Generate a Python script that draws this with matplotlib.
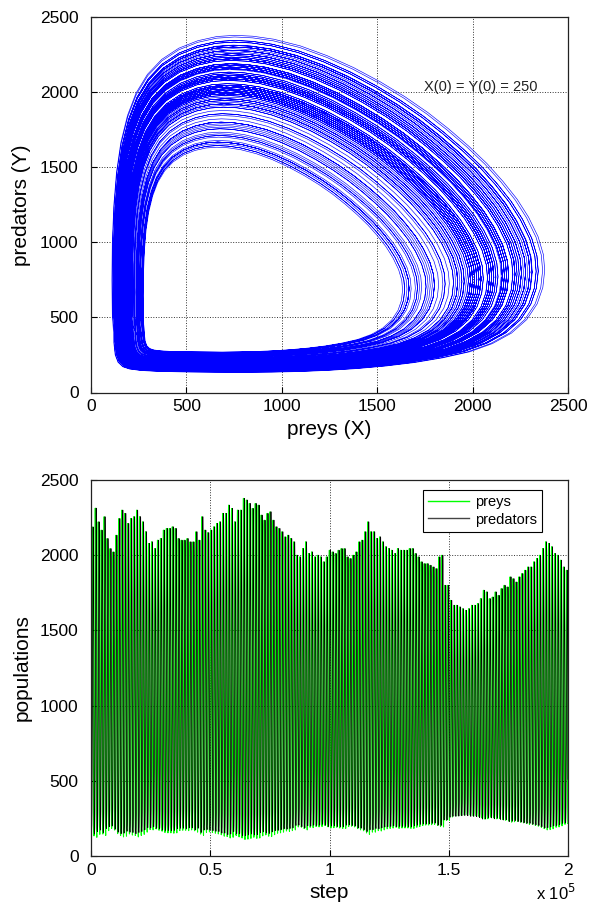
import numpy as np
import matplotlib
matplotlib.use("Agg")
import matplotlib.pyplot as plt

plt.rcParams['font.family'] = ['Liberation Sans', 'DejaVu Sans']

# Envelope of the oscillations: peak population reached in each cycle (read from the time series)
cycle_peaks = [
    2188, 2313, 2222, 2167, 2256, 2111, 2044, 2022, 2133, 2244, 2300, 2278, 2211, 2244, 2256,
    2300, 2256, 2222, 2156, 2078, 2089, 2044, 2100, 2111, 2167, 2178, 2178, 2189, 2178, 2111,
    2100, 2100, 2111, 2089, 2089, 2156, 2100, 2256, 2167, 2150, 2167, 2189, 2211, 2222, 2278,
    2278, 2333, 2311, 2222, 2300, 2300, 2378,
    2367, 2344, 2311, 2344, 2333, 2267, 2233, 2278, 2289, 2233, 2189, 2178, 2156, 2122, 2133,
    2111, 2089, 2000, 1989, 2044, 2089, 2011, 2022, 1989, 2000, 1989, 1956, 1989, 2033, 2022,
    2011, 2033, 2044, 2044, 1989, 1978, 2000, 2022, 2089, 2100, 2156, 2222, 2156, 2156, 2111,
    2122, 2089, 2056, 2044, 2033, 2011,
    2044, 2033, 2033, 2033, 2044, 2044, 2011, 1989, 1956, 1944, 1944, 1933, 1922, 1911, 1989,
    2000, 1800, 1800, 1700, 1667, 1667, 1656, 1644, 1633, 1644, 1667, 1667, 1678, 1711, 1767,
    1756, 1711, 1722, 1756, 1733, 1778, 1800, 1789, 1856, 1844, 1822, 1856, 1878, 1900, 1922,
    1922, 1956, 1978, 2000, 2044, 2089, 2078, 2056, 2011, 2000, 1967, 1922, 1900,
]

# Shape of the outermost cycle in the phase plane (preys X, predators Y)
loop_prey = [118, 125, 140, 165, 200, 260, 350, 500, 650, 800, 950, 1100, 1250, 1400, 1550,
             1700, 1850, 1990, 2110, 2210, 2290, 2345, 2375, 2385, 2378, 2350, 2300, 2240, 2165,
             2080, 1985, 1880, 1770, 1650, 1520, 1380, 1240, 1100, 960, 850, 755, 660, 560,
             460, 370, 295, 235, 190, 155, 132, 118, 110, 108, 110]
loop_pred = [330, 250, 200, 170, 155, 145, 139, 135, 133, 132, 134, 138, 146, 158, 175,
             198, 230, 270, 325, 395, 485, 590, 700, 815, 920, 1040, 1170, 1290, 1410,
             1530, 1645, 1760, 1870, 1975, 2075, 2170, 2250, 2315, 2360, 2380, 2386, 2378, 2350,
             2300, 2225, 2125, 2000, 1850, 1670, 1470, 1250, 1000, 750, 520]
loop_center = (520, 480)

x_ticks = [0, 500, 1000, 1500, 2000, 2500]
step_ticks = [0, 0.5e5, 1e5, 1.5e5, 2e5]
step_labels = ['0', '0.5', '1', '1.5', '2']
n_steps = 2e5

# ---- build trajectory from cycle envelope and loop shape ----
lp = np.array(loop_prey, float)
ld = np.array(loop_pred, float)
prey_all, pred_all = [], []
for p in cycle_peaks:
    sx = (p - loop_center[0]) / (lp.max() - loop_center[0])
    sy = (p - loop_center[1]) / (ld.max() - loop_center[1])
    prey_all.append(loop_center[0] + sx * (lp - loop_center[0]))
    pred_all.append(loop_center[1] + sy * (ld - loop_center[1]))
prey_all = np.concatenate(prey_all)
pred_all = np.concatenate(pred_all)
steps = np.linspace(0, n_steps, len(prey_all))

fig = plt.figure(figsize=(6.04, 9.11), dpi=100)
W, H = 604, 911
ax1 = fig.add_axes([91 / W, 1 - 392.5 / H, 477 / W, 375.5 / H])
ax2 = fig.add_axes([91 / W, 1 - 856 / H, 477 / W, 376 / H])

def style(ax):
    ax.tick_params(axis='both', direction='in', length=4, width=0.8, labelsize=12.5,
                   top=False, right=False)
    ax.tick_params(axis='x', pad=5)
    ax.tick_params(axis='y', pad=9)
    ax.grid(True, linestyle=':', color='black', linewidth=0.7, alpha=0.8)
    for s in ax.spines.values():
        s.set_linewidth(0.9)
        s.set_color('#222222')
    ax.set_axisbelow(True)

ax1.plot(prey_all, pred_all, color='#0000ff', linewidth=0.45)
ax1.set_xlim(0, 2500)
ax1.set_ylim(0, 2500)
ax1.set_xticks(x_ticks)
ax1.set_yticks(x_ticks)
ax1.set_xlabel('preys (X)', fontsize=15, labelpad=4)
ax1.set_ylabel('predators (Y)', fontsize=15, labelpad=6)
ax1.text(2045, 2034, 'X(0) = Y(0) = 250', fontsize=10.5, ha='center', va='center', color='#222222')
style(ax1)

ax2.plot(steps, prey_all, color='#00ff00', linewidth=0.75, label='preys')
ax2.plot(steps, pred_all, color='black', linewidth=0.55, label='predators')
ax2.set_xlim(0, n_steps)
ax2.set_ylim(0, 2500)
ax2.set_xticks(step_ticks)
ax2.set_xticklabels(step_labels)
ax2.set_yticks(x_ticks)
ax2.set_xlabel('step', fontsize=15, labelpad=4)
ax2.set_ylabel('populations', fontsize=15, labelpad=6)
ax2.text(1.016, -0.072, r'x 10$^{5}$', transform=ax2.transAxes, ha='right', va='top', fontsize=12)
leg = ax2.legend(loc='upper right', bbox_to_anchor=(0.946, 0.974), fontsize=10.5, frameon=True,
                 fancybox=False, edgecolor='black', framealpha=1, handlelength=2.8,
                 borderpad=0.35, labelspacing=0.25, handletextpad=0.4, borderaxespad=0)
leg.get_frame().set_linewidth(0.8)
for h in leg.get_lines():
    h.set_linewidth(1.0)
leg.get_lines()[1].set_color('#444444')
style(ax2)

fig.savefig('out.png', dpi=100)
